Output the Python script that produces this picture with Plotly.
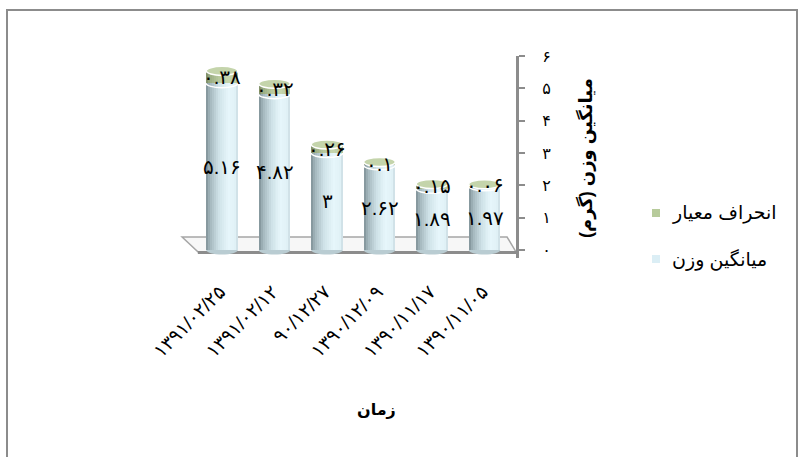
import plotly.graph_objects as go

# ---------------- data ----------------
categories = ["۱۳۹۱/۰۲/۲۵", "۱۳۹۱/۰۲/۱۲", "۹۰/۱۲/۲۷", "۱۳۹۰/۱۲/۰۹", "۱۳۹۰/۱۱/۱۷", "۱۳۹۰/۱۱/۰۵"]
mean_weight = [5.16, 4.82, 3.0, 2.62, 1.89, 1.97]
std_dev = [0.38, 0.32, 0.26, 0.10, 0.15, 0.06]
y_ticks = [0, 1, 2, 3, 4, 5, 6]

series_mean_name = "میانگین وزن"
series_sd_name = "انحراف معیار"
x_title = "زمان"
y_title = "میانگین وزن (گرم)"

PERSIAN = str.maketrans("0123456789", "۰۱۲۳۴۵۶۷۸۹")


def fa(v):
    return ("%g" % v).translate(PERSIAN)


# ---------------- layout constants ----------------
W, H = 799, 457
ML, MR, MT, MB = 180, 283, 56, 199
PW, PH = W - ML - MR, H - MT - MB
XR = [-0.8, 5.6]
YR = [-0.25, 6]


def px_x(p):
    return (p - ML) / PW


def px_y(p):
    return (H - MB - p) / PH


FONT = "Arial, 'DejaVu Sans', sans-serif"
idx = list(range(len(categories)))
BW = 0.6
NS = 16


def hex2rgb(h):
    h = h.lstrip("#")
    return [int(h[i:i + 2], 16) for i in (0, 2, 4)]


def grad(stops, t):
    for (t0, c0), (t1, c1) in zip(stops, stops[1:]):
        if t0 <= t <= t1:
            f = (t - t0) / (t1 - t0) if t1 > t0 else 0
            a, b = hex2rgb(c0), hex2rgb(c1)
            return "rgb(%d,%d,%d)" % tuple(round(a[k] + (b[k] - a[k]) * f) for k in range(3))
    return stops[-1][1]


blue_stops = [(0, "#7e8f95"), (0.12, "#a2b5bb"), (0.4, "#cfe2e8"), (0.7, "#e6f6fb"), (0.9, "#e2f2f7"), (1, "#c9dbe1")]
green_stops = [(0, "#7b8a66"), (0.12, "#9aac82"), (0.4, "#b7c99d"), (0.7, "#c6d6ad"), (1, "#b4c49b")]

fig = go.Figure()

for j in range(NS):
    t = (j + 0.5) / NS
    off = -BW / 2 + j * BW / NS
    fig.add_trace(go.Bar(x=idx, y=mean_weight, base=[0] * len(idx), width=BW / NS + 0.004, offset=off,
                         marker=dict(color=grad(blue_stops, t), line=dict(width=0)),
                         showlegend=False, hoverinfo="skip"))
    fig.add_trace(go.Bar(x=idx, y=std_dev, base=mean_weight, width=BW / NS + 0.004, offset=off,
                         marker=dict(color=grad(green_stops, t), line=dict(width=0)),
                         showlegend=False, hoverinfo="skip"))

annotations = []
# data labels (annotations so they sit above the cap shapes)
for i, m, s in zip(idx, mean_weight, std_dev):
    annotations.append(dict(x=i, y=m / 2, xref="x", yref="y", text=fa(m), showarrow=False,
                            font=dict(size=20, color="black", family=FONT)))
    annotations.append(dict(x=i, y=m + s / 2, xref="x", yref="y", text=fa(s), showarrow=False,
                            font=dict(size=20, color="black", family=FONT)))

shapes = []
# floor
floor = [(-0.76, 0.40), (5.43, 0.40), (5.6, -0.06), (-0.46, -0.06)]
shapes.append(dict(type="path", xref="x", yref="y", layer="below",
                   path="M %g,%g L %g,%g L %g,%g L %g,%g Z" % sum(floor, ()),
                   fillcolor="#f7f7f7", line=dict(color="#a6a6a6", width=1.5)))
shapes.append(dict(type="line", xref="x", yref="y", layer="below", x0=-0.46, y0=-0.08, x1=5.6, y1=-0.08,
                   line=dict(color="#8c8c8c", width=3)))

EB = 0.14
k = 0.5523
for i, m, s in zip(idx, mean_weight, std_dev):
    a = BW / 2
    shapes.append(dict(type="path", xref="x", yref="y", layer="below",
                       path="M %g,%g C %g,%g %g,%g %g,%g C %g,%g %g,%g %g,%g Z" % (
                           i - a, 0, i - a, -k * EB, i - k * a, -EB, i, -EB,
                           i + k * a, -EB, i + a, -k * EB, i + a, 0),
                       fillcolor="#b9ccd2", line=dict(width=0)))
    shapes.append(dict(type="path", xref="x", yref="y",
                       path="M %g,%g C %g,%g %g,%g %g,%g C %g,%g %g,%g %g,%g" % (
                           i - a, m, i - a, m - k * EB, i - k * a, m - EB, i, m - EB,
                           i + k * a, m - EB, i + a, m - k * EB, i + a, m),
                       line=dict(color="white", width=1.5)))
    top = m + s
    shapes.append(dict(type="circle", xref="x", yref="y", x0=i - a, x1=i + a, y0=top - EB, y1=top + EB,
                       fillcolor="#c4d4ab", line=dict(color="white", width=1.5)))

# outer frame
shapes.append(dict(type="rect", xref="paper", yref="paper",
                   x0=px_x(7), x1=px_x(797), y0=px_y(470), y1=px_y(10),
                   line=dict(color="#8c8c8c", width=2), fillcolor="rgba(0,0,0,0)"))

# legend
leg_items = [(series_sd_name, "#b7cb9b", 213), (series_mean_name, "#dbeef5", 259)]
for name, col, py in leg_items:
    shapes.append(dict(type="rect", xref="paper", yref="paper",
                       x0=px_x(652), x1=px_x(660), y0=px_y(py + 4), y1=px_y(py - 4),
                       fillcolor=col, line=dict(width=0)))
    annotations.append(dict(x=px_x(670), y=px_y(py), xref="paper", yref="paper", text=name,
                            showarrow=False, xanchor="left", yanchor="middle",
                            font=dict(size=19, color="black", family=FONT)))

annotations.append(dict(x=px_x(376), y=px_y(410), xref="paper", yref="paper", text="<b>%s</b>" % x_title,
                        showarrow=False, xanchor="center", yanchor="middle",
                        font=dict(size=16, color="black", family=FONT)))
annotations.append(dict(x=px_x(586), y=px_y(158), xref="paper", yref="paper", text="<b>%s</b>" % y_title,
                        showarrow=False, xanchor="center", yanchor="middle", textangle=-90,
                        font=dict(size=18, color="black", family=FONT)))

fig.update_layout(
    width=W, height=H, margin=dict(l=ML, r=MR, t=MT, b=MB),
    paper_bgcolor="white", plot_bgcolor="rgba(0,0,0,0)",
    barmode="overlay", bargap=0, showlegend=False,
    shapes=shapes, annotations=annotations,
    xaxis=dict(range=XR, tickmode="array", tickvals=idx, ticktext=categories, tickangle=-45,
               showgrid=False, zeroline=False, showline=False, ticks="",
               ticklabelstandoff=18, ticklabelshift=-2,
               tickfont=dict(size=19, color="black", family=FONT), fixedrange=True),
    yaxis=dict(range=YR, side="right", tickmode="array", tickvals=y_ticks, ticktext=[fa(v) for v in y_ticks],
               showgrid=False, zeroline=False, showline=True, linecolor="#8c8c8c", linewidth=3,
               ticks="outside", ticklen=6, tickwidth=2, tickcolor="#8c8c8c", ticklabelstandoff=14,
               tickfont=dict(size=16, color="black", family=FONT), fixedrange=True),
)

fig.write_html("out.html")
